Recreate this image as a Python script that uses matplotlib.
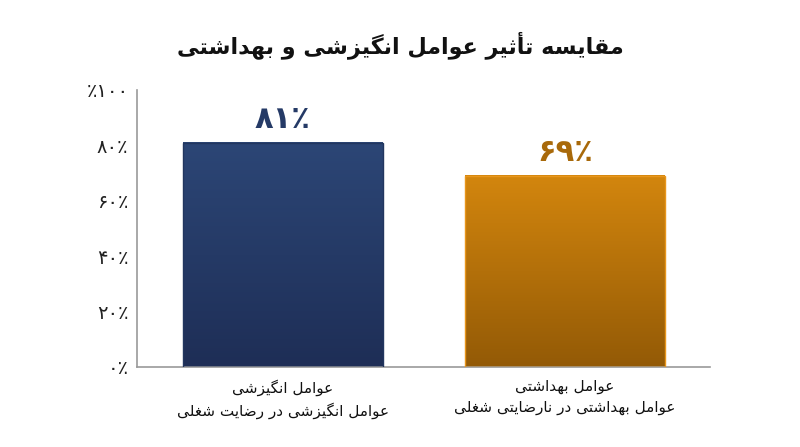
import matplotlib
matplotlib.use("Agg")
import matplotlib.pyplot as plt
import numpy as np
from matplotlib.colors import LinearSegmentedColormap

# ---------------- data ----------------
title = "مقایسه تأثیر عوامل انگیزشی و بهداشتی"
categories = ["عوامل انگیزشی\nعوامل انگیزشی در رضایت شغلی",
              "عوامل بهداشتی\nعوامل بهداشتی در نارضایتی شغلی"]
values = [81, 69]
value_labels = ["۸۱٪", "۶۹٪"]
yticks = [0, 20, 40, 60, 80, 100]
ytick_labels = ["۰٪", "۲۰٪", "۴۰٪", "۶۰٪", "۸۰٪", "٪۱۰۰"]

# ---------------- minimal Persian shaping ----------------
FORMS = {
    'ا': ('\uFE8D', '\uFE8E', None, None),
    'أ': ('\uFE83', '\uFE84', None, None),
    'آ': ('\uFE81', '\uFE82', None, None),
    'ب': ('\uFE8F', '\uFE90', '\uFE91', '\uFE92'),
    'پ': ('\uFB56', '\uFB57', '\uFB58', '\uFB59'),
    'ت': ('\uFE95', '\uFE96', '\uFE97', '\uFE98'),
    'ث': ('\uFE99', '\uFE9A', '\uFE9B', '\uFE9C'),
    'د': ('\uFEA9', '\uFEAA', None, None),
    'ذ': ('\uFEAB', '\uFEAC', None, None),
    'ر': ('\uFEAD', '\uFEAE', None, None),
    'ز': ('\uFEAF', '\uFEB0', None, None),
    'س': ('\uFEB1', '\uFEB2', '\uFEB3', '\uFEB4'),
    'ش': ('\uFEB5', '\uFEB6', '\uFEB7', '\uFEB8'),
    'ض': ('\uFEBD', '\uFEBE', '\uFEBF', '\uFEC0'),
    'ع': ('\uFEC9', '\uFECA', '\uFECB', '\uFECC'),
    'غ': ('\uFECD', '\uFECE', '\uFECF', '\uFED0'),
    'ق': ('\uFED5', '\uFED6', '\uFED7', '\uFED8'),
    'ل': ('\uFEDD', '\uFEDE', '\uFEDF', '\uFEE0'),
    'م': ('\uFEE1', '\uFEE2', '\uFEE3', '\uFEE4'),
    'ن': ('\uFEE5', '\uFEE6', '\uFEE7', '\uFEE8'),
    'ه': ('\uFEE9', '\uFEEA', '\uFEEB', '\uFEEC'),
    'و': ('\uFEED', '\uFEEE', None, None),
    'ی': ('\uFBFC', '\uFBFD', '\uFBFE', '\uFBFF'),
    'گ': ('\uFB92', '\uFB93', '\uFB94', '\uFB95'),
}


def shape_line(s):
    out = []
    n = len(s)
    for i, c in enumerate(s):
        if c not in FORMS:
            out.append(c)
            continue
        iso, fin, ini, med = FORMS[c]
        prev = s[i - 1] if i > 0 else None
        nxt = s[i + 1] if i + 1 < n else None
        jp = prev in FORMS and FORMS[prev][2] is not None
        jn = ini is not None and nxt in FORMS
        if jp and jn:
            out.append(med)
        elif jp:
            out.append(fin)
        elif jn:
            out.append(ini)
        else:
            out.append(iso)
    return ''.join(out)[::-1]


def fa(s):
    return '\n'.join(shape_line(l) for l in s.split('\n'))


plt.rcParams['font.family'] = ['DejaVu Sans']

fig = plt.figure(figsize=(8.0, 4.47), dpi=100)
ax = fig.add_axes([0.171, 0.179, 0.7165, 0.620])

x = np.arange(len(values))
bar_colors = [("#2c4676", "#1e2e56"), ("#d3860e", "#935a06")]
edge_colors = ["#22365f", "#e8961c"]
label_colors = ["#253a66", "#a8690a"]
bars = ax.bar(x, values, width=0.709, color='none', edgecolor='none', zorder=2)
for b, (ctop, cbot), ec in zip(bars, bar_colors, edge_colors):
    cmap = LinearSegmentedColormap.from_list('g', [cbot, ctop])
    grad = np.linspace(0, 1, 256).reshape(-1, 1)
    ax.imshow(grad, cmap=cmap, aspect='auto', origin='lower',
              extent=(b.get_x(), b.get_x() + b.get_width(), 0, b.get_height()),
              zorder=2)
    b.set_edgecolor(ec)
    b.set_linewidth(1.0)
    b.set_zorder(3)

for b, lab, col in zip(bars, value_labels, label_colors):
    ax.annotate(lab, (b.get_x() + b.get_width() / 2, b.get_height()),
                xytext=(0, 6), textcoords='offset points',
                ha='center', va='bottom', fontsize=22, fontweight='bold',
                color=col)

ax.set_xlim(-0.518, 1.514)
ax.set_ylim(0, 100)
ax.set_yticks(yticks)
ax.set_yticklabels(ytick_labels, fontsize=14, color='#222222')
ax.set_xticks(x)
ax.set_xticklabels([fa(c) for c in categories], fontsize=11, color='#111111',
                   linespacing=1.45)
ax.tick_params(axis='y', length=0, pad=6)
ax.tick_params(axis='x', length=0, pad=9)
for s in ['top', 'right']:
    ax.spines[s].set_visible(False)
for s in ['left', 'bottom']:
    ax.spines[s].set_color('#9a9a9a')
    ax.spines[s].set_linewidth(1.2)

fig.text(0.5, 0.90, fa(title), ha='center', va='center', fontsize=16,
         fontweight='bold', color='#111111')

fig.savefig('out.png', dpi=100, facecolor='white')
